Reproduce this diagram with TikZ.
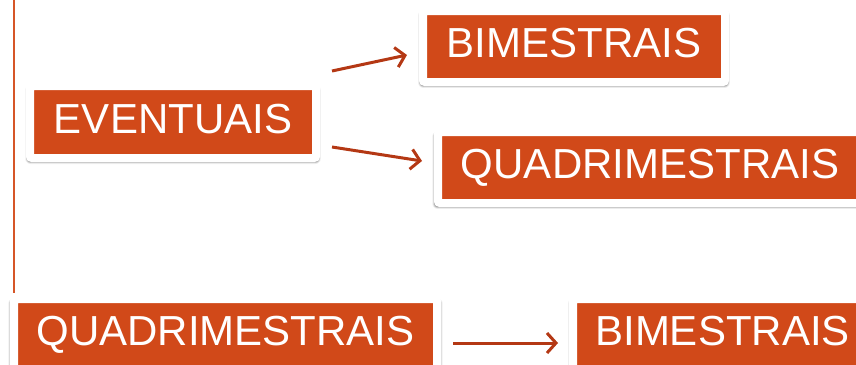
\documentclass[tikz,border=0pt]{standalone}
\usepackage{fontspec}
\setmainfont{Liberation Sans}
\usepackage{tikz}
\usetikzlibrary{shapes, positioning, shadows.blur, arrows.meta}

\definecolor{boxorange}{RGB}{209,73,25}
\definecolor{arrowred}{RGB}{180,56,20}
\definecolor{lineorange}{RGB}{214,86,40}

\begin{document}
\begin{tikzpicture}[x=1pt, y=-1pt]
      \tikzstyle{every node}=[font=\fontsize{42}{50}\selectfont]
      \tikzstyle{tag}=[rectangle, fill=boxorange, draw=white, line width=8pt, rounded corners=2pt,
        text=white, text height=30pt, text depth=8pt, inner xsep=0pt,
        blur shadow={shadow xshift=0pt, shadow yshift=-2.5pt, shadow scale=1.012,
          shadow blur radius=3pt, shadow opacity=100}]
      \tikzstyle{arr}=[draw=arrowred, line width=3pt, -{Straight Barb[length=9pt,width=20pt]}]
      \useasboundingbox (0,0) rectangle (856,364);
      \clip (0,0) rectangle (856,364);
      \draw [lineorange, line width=2pt] (14,0) -- (14,293);
      \node [tag, minimum width=286pt, minimum height=72pt] (ev) at (173,122) {EVENTUAIS};
      \node [tag, minimum width=302pt, minimum height=71pt] (bi1) at (574,46.5) {BIMESTRAIS};
      \node [tag, minimum width=424pt, minimum height=71pt] (qu1) at (650,167.5) {QUADRIMESTRAIS};
      \node [tag, minimum width=423pt, minimum height=71pt] (qu2) at (225.5,334.5) {QUADRIMESTRAIS};
      \node [tag, minimum width=299pt, minimum height=71pt] (bi2) at (722.5,334.5) {BIMESTRAIS};
      \draw [arr] ([xshift=12pt, yshift=51pt]ev.east) -- ([xshift=-12pt, yshift=-8.5pt]bi1.west);
      \draw [arr] ([xshift=12pt, yshift=-25pt]ev.east) -- ([xshift=-12pt, yshift=6.5pt]qu1.west);
      \draw [arr] ([xshift=12pt, yshift=-8.5pt]qu2.east) -- ([xshift=-11pt, yshift=-8.5pt]bi2.west);
\end{tikzpicture}
\end{document}
